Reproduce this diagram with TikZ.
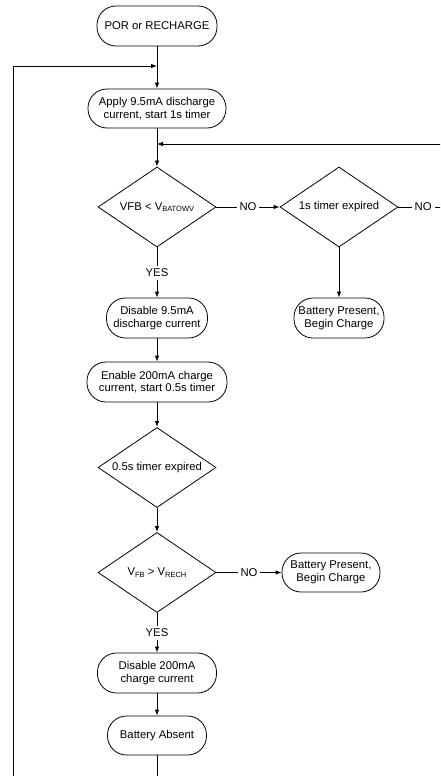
\documentclass[tikz,border=0pt]{standalone}
\usepackage{fontspec}
\setmainfont{Liberation Sans}
\usetikzlibrary{shapes.geometric,arrows.meta}
\newcommand\lowtxt[1]{\raisebox{-1.6pt}{\fontsize{7.5}{8}\selectfont #1}}
\begin{document}
\begin{tikzpicture}[x=1pt,y=-1pt,
  font=\fontsize{11.3}{12.7}\selectfont,
  line width=0.8pt,
  box/.style={draw, rounded corners=19pt, align=center, inner sep=0pt},
  dia/.style={draw, diamond, inner sep=0pt, minimum width=118pt, minimum height=80pt},
  arr/.style={-{Latex[length=6pt,width=4.5pt]}},
  lbl/.style={fill=white, inner sep=3pt}]
\useasboundingbox (0,0) rectangle (440,776);
\clip (0,0) rectangle (440,776);
\node[box, minimum width=120pt, minimum height=40pt] (por) at (157,26) {POR or RECHARGE};
\node[box, minimum width=138pt, minimum height=39pt] (apply) at (157,108.5) {Apply 9.5mA discharge\\current, start 1s timer};
\node[dia] (d1) at (157,207) {\makebox[0pt]{VFB < V\lowtxt{BATOWV}}};
\node[dia] (d2) at (339,207) {\makebox[0pt]{1s timer expired}};
\node[box, minimum width=90pt, minimum height=40pt] (bp1) at (339,318) {Battery Present,\\Begin Charge};
\node[box, minimum width=101pt, minimum height=40pt] (dis1) at (157,318) {Disable 9.5mA\\discharge current};
\node[box, minimum width=140pt, minimum height=40pt] (en) at (157,382) {Enable 200mA charge\\current, start 0.5s timer};
\node[dia] (d3) at (157,467.5) {\makebox[0pt]{0.5s timer expired}};
\node[dia] (d4) at (157,572.5) {\makebox[0pt]{V\lowtxt{FB} > V\lowtxt{RECH}}};
\node[box, minimum width=98pt, minimum height=39pt] (bp2) at (331,572.5) {Battery Present,\\Begin Charge};
\node[box, minimum width=119pt, minimum height=40pt] (dis2) at (157,673) {Disable 200mA\\charge current};
\node[box, minimum width=99pt, minimum height=39pt] (abs) at (157,735.5) {Battery Absent};
\coordinate (j1) at (157,66);
\coordinate (j2) at (157,144);
\coordinate (lc) at (13,795);
\coordinate (rc) at (448,207);
\draw[arr] (por) -- (apply);
\draw[arr] (apply) -- (d1);
\draw[arr] (d1) -- node[lbl]{NO} (d2);
\draw[arr] (d2) -- (bp1);
\draw[arr] (d1) -- node[lbl]{YES} (dis1);
\draw[arr] (dis1) -- (en);
\draw[arr] (en) -- (d3);
\draw[arr] (d3) -- (d4);
\draw[arr] (d4) -- node[lbl]{NO} (bp2);
\draw[arr] (d4) -- node[lbl]{YES} (dis2);
\draw[arr] (dis2) -- (abs);
\draw[arr] (abs) -- (abs |- lc) -- (lc) |- (j1);
\draw[arr] (d2) -- node[lbl]{NO} (rc) |- (j2);
\end{tikzpicture}
\end{document}
